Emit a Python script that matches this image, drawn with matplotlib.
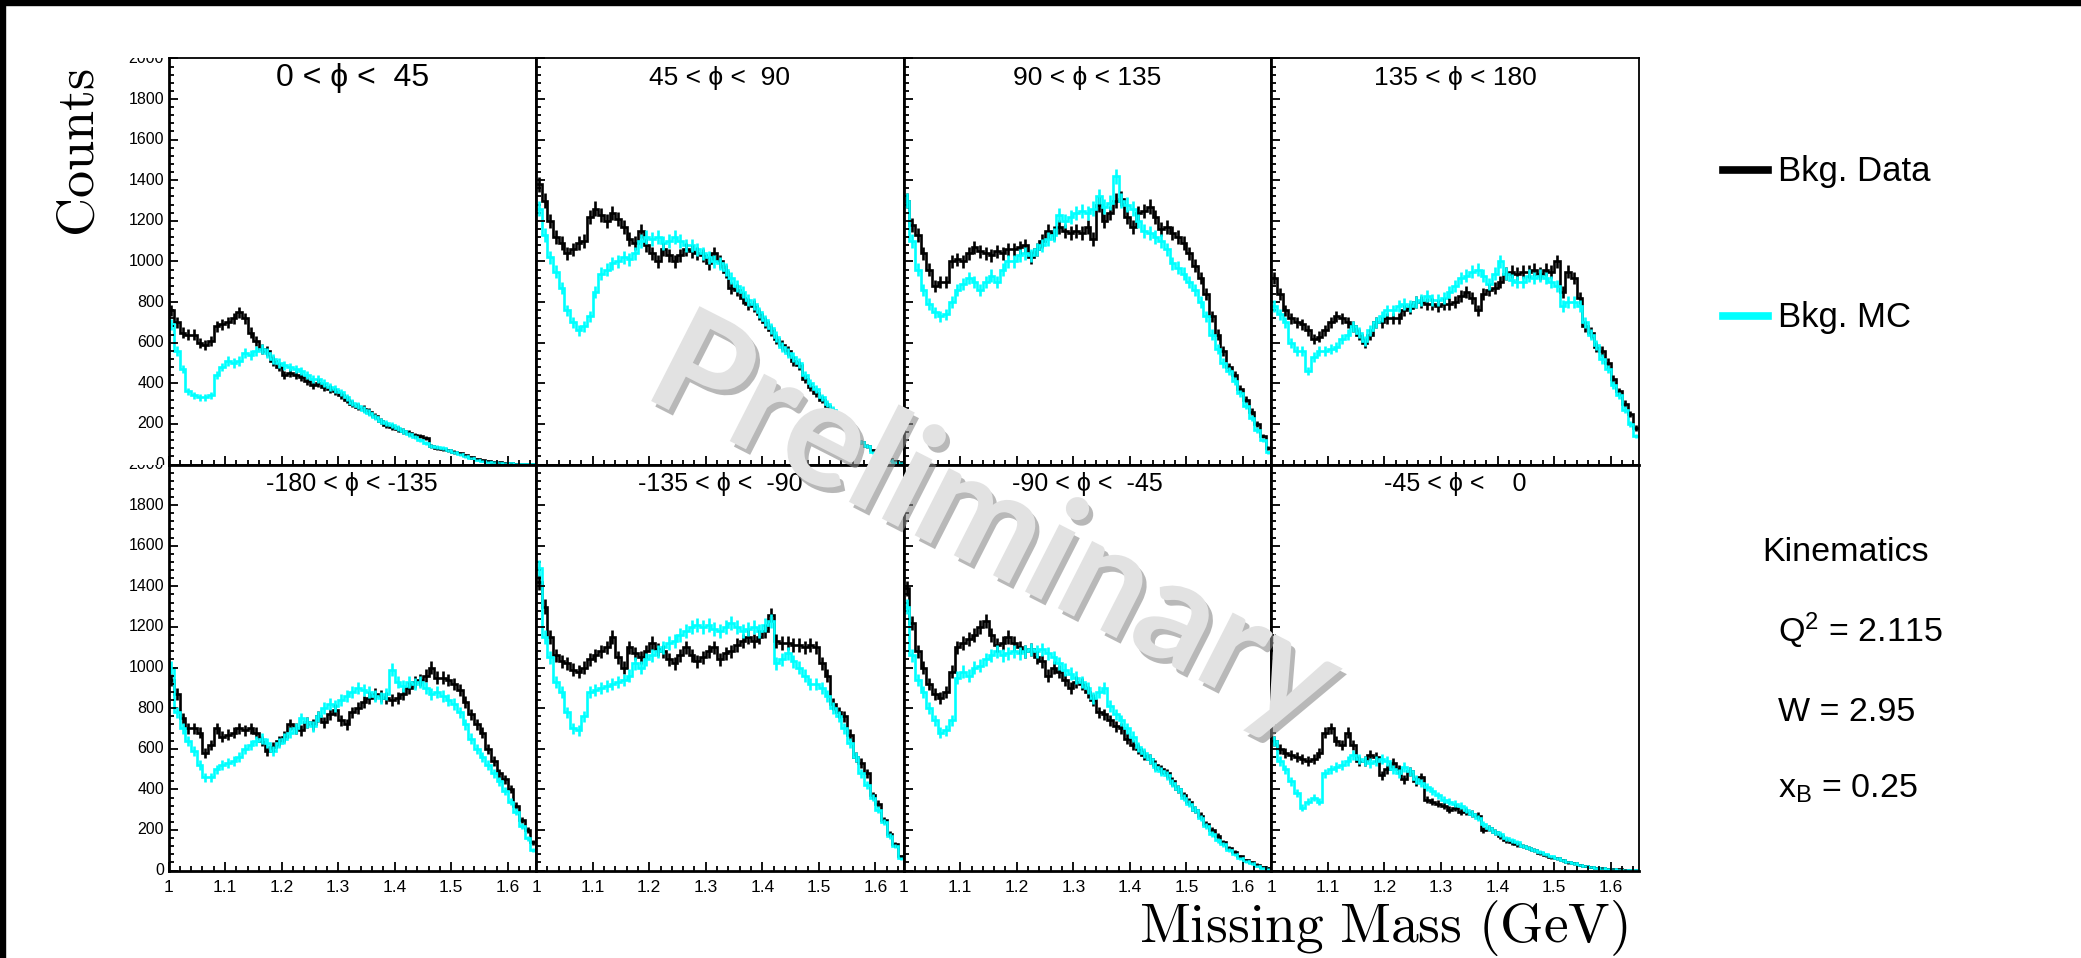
import numpy as np
import matplotlib
matplotlib.use("Agg")
import matplotlib.pyplot as plt
import matplotlib.patheffects as pe
from matplotlib.patches import Rectangle
from matplotlib.lines import Line2D
from matplotlib.transforms import Bbox, TransformedBbox

plt.rcParams['font.family'] = ['Liberation Sans', 'DejaVu Sans']
plt.rcParams['mathtext.fontset'] = 'custom'
plt.rcParams['mathtext.rm'] = 'Liberation Sans'
plt.rcParams['mathtext.it'] = 'Liberation Sans:italic'

# missing mass binning (GeV), 10 MeV bins
edges = np.round(np.arange(1.0, 1.6501, 0.01), 2)
centers = 0.5 * (edges[:-1] + edges[1:])

titles = ["0 < \u03d5 <  45", "45 < \u03d5 <  90", "90 < \u03d5 < 135", "135 < \u03d5 < 180",
          "-180 < \u03d5 < -135", "-135 < \u03d5 <  -90", "-90 < \u03d5 <  -45", "-45 < \u03d5 <    0"]
title_sizes = [23, 19, 19, 19, 18, 18, 18, 18]

xtick_labels = ['1', '1.1', '1.2', '1.3', '1.4', '1.5', '1.6']

# background counts, data
data1 = [760, 700, 650, 640, 640, 600, 590, 610, 680, 690,
         700, 720, 750, 720, 650, 610, 570, 560, 510, 480,
         440, 450, 440, 430, 410, 390, 400, 380, 370, 360,
         340, 320, 300, 285, 275, 260, 240, 215, 195, 185,
         175, 165, 155, 145, 140, 130, 90, 80, 75, 70,
         62, 55, 45, 35, 28, 22, 18, 14, 10, 8,
         6, 4, 3, 2, 1]
data2 = [1380, 1300, 1200, 1120, 1090, 1040, 1060, 1090, 1100, 1220,
         1260, 1230, 1200, 1240, 1210, 1170, 1110, 1090, 1150, 1080,
         1040, 1000, 1060, 1030, 1000, 1030, 1060, 1050, 1040, 1030,
         990, 1040, 1000, 950, 870, 860, 820, 790, 780, 740,
         700, 660, 620, 590, 560, 510, 490, 420, 380, 350,
         320, 290, 260, 230, 200, 170, 140, 110, 90, 70,
         55, 40, 28, 18, 10]
data3 = [1300, 1180, 1130, 1040, 960, 880, 900, 900, 1000, 1010,
         1000, 1040, 1070, 1050, 1040, 1030, 1050, 1040, 1060, 1060,
         1070, 1080, 1020, 1060, 1100, 1150, 1140, 1170, 1150, 1140,
         1150, 1140, 1170, 1110, 1280, 1200, 1240, 1300, 1310, 1220,
         1170, 1240, 1250, 1270, 1220, 1160, 1170, 1140, 1120, 1090,
         1040, 980, 920, 840, 730, 640, 560, 480, 440, 370,
         320, 260, 200, 140, 80]
data4 = [920, 840, 760, 720, 700, 690, 660, 620, 630, 660,
         700, 730, 720, 700, 680, 640, 600, 640, 700, 700,
         720, 720, 720, 760, 770, 800, 800, 790, 790, 780,
         790, 790, 800, 830, 850, 820, 760, 840, 860, 870,
         900, 940, 950, 940, 950, 950, 960, 940, 960, 950,
         1000, 850, 950, 920, 820, 680, 650, 580, 560, 500,
         420, 360, 300, 250, 180]
data5 = [940, 870, 750, 700, 700, 680, 580, 620, 700, 660,
         670, 680, 700, 690, 700, 680, 640, 590, 610, 640,
         660, 720, 700, 690, 730, 720, 760, 730, 770, 790,
         740, 720, 780, 800, 830, 850, 870, 860, 850, 840,
         850, 870, 900, 930, 940, 960, 1000, 950, 950, 940,
         920, 890, 830, 770, 720, 680, 600, 540, 480, 450,
         400, 320, 250, 200, 140]
data6 = [1420, 1300, 1150, 1060, 1030, 1020, 990, 980, 1000, 1040,
         1060, 1080, 1100, 1150, 1050, 1000, 1100, 1070, 1050, 1080,
         1120, 1090, 1080, 1040, 1020, 1060, 1100, 1060, 1030, 1050,
         1080, 1100, 1040, 1070, 1080, 1110, 1130, 1150, 1130, 1150,
         1180, 1260, 1130, 1120, 1120, 1110, 1110, 1100, 1110, 1100,
         1020, 960, 820, 780, 760, 670, 560, 530, 480, 370,
         330, 250, 180, 130, 70]
data7 = [1390, 1220, 1080, 1000, 920, 870, 850, 880, 980, 1100,
         1120, 1140, 1160, 1200, 1230, 1160, 1110, 1120, 1150, 1120,
         1100, 1080, 1090, 1050, 1030, 960, 1000, 980, 940, 900,
         930, 920, 880, 840, 780, 770, 740, 710, 700, 650,
         620, 600, 570, 550, 520, 500, 480, 440, 400, 370,
         340, 300, 270, 230, 200, 170, 140, 110, 90, 70,
         50, 40, 30, 20, 12]
data8 = [640, 600, 580, 570, 560, 550, 540, 550, 580, 680,
         700, 640, 620, 680, 620, 540, 540, 570, 560, 470,
         500, 530, 500, 450, 490, 440, 460, 350, 340, 330,
         320, 300, 310, 290, 290, 280, 270, 200, 210, 190,
         170, 150, 140, 130, 120, 110, 100, 85, 75, 65,
         60, 50, 40, 35, 28, 22, 18, 15, 12, 10,
         8, 6, 4, 3, 2]

# background counts, simulation
mc1 = [690, 560, 470, 360, 340, 330, 330, 340, 440, 480,
       510, 500, 510, 550, 540, 560, 570, 550, 520, 500,
       490, 480, 470, 460, 440, 420, 420, 400, 380, 370,
       355, 330, 305, 290, 270, 255, 235, 215, 205, 195,
       180, 165, 150, 135, 120, 105, 92, 85, 80, 70,
       60, 50, 40, 32, 22, 16, 12, 10, 8, 6,
       5, 4, 3, 2, 1]
mc2 = [1260, 1130, 1020, 950, 870, 760, 700, 660, 680, 730,
       850, 940, 960, 990, 1000, 1020, 1010, 1040, 1100, 1120,
       1110, 1120, 1090, 1100, 1120, 1100, 1080, 1080, 1060, 1040,
       1020, 1000, 990, 960, 920, 880, 850, 810, 790, 750,
       710, 670, 630, 580, 550, 530, 500, 440, 400, 370,
       330, 300, 270, 230, 200, 170, 140, 110, 90, 60,
       45, 30, 20, 12, 6]
mc3 = [1300, 1100, 960, 860, 790, 750, 730, 740, 800, 860,
       890, 920, 900, 860, 900, 930, 900, 960, 1000, 1000,
       1030, 1040, 1030, 1060, 1080, 1110, 1130, 1230, 1200, 1220,
       1240, 1250, 1240, 1260, 1320, 1270, 1290, 1420, 1300, 1280,
       1260, 1200, 1150, 1140, 1120, 1100, 1060, 990, 970, 940,
       900, 860, 800, 730, 640, 570, 500, 460, 410, 350,
       290, 230, 170, 120, 60]
mc4 = [780, 740, 700, 600, 560, 560, 460, 530, 560, 560,
       570, 580, 620, 640, 680, 650, 610, 660, 700, 730,
       760, 760, 780, 790, 780, 800, 810, 830, 810, 810,
       820, 850, 880, 920, 930, 950, 960, 930, 890, 940,
       1000, 940, 910, 900, 900, 930, 920, 930, 920, 900,
       880, 780, 800, 800, 780, 700, 640, 590, 520, 470,
       390, 340, 270, 200, 140]
mc5 = [1000, 780, 700, 640, 590, 520, 460, 460, 500, 520,
       530, 540, 560, 600, 620, 640, 650, 630, 590, 630,
       650, 680, 700, 750, 730, 710, 760, 800, 820, 810,
       840, 860, 880, 900, 890, 880, 860, 850, 870, 990,
       930, 910, 930, 920, 930, 900, 870, 880, 860, 840,
       820, 780, 720, 650, 600, 560, 520, 480, 440, 390,
       340, 290, 220, 160, 100]
mc6 = [1490, 1150, 1050, 930, 880, 780, 700, 690, 760, 880,
       890, 900, 910, 920, 930, 940, 960, 1020, 1000, 1040,
       1060, 1080, 1100, 1120, 1130, 1160, 1180, 1200, 1210, 1200,
       1210, 1190, 1180, 1200, 1220, 1200, 1180, 1190, 1200, 1180,
       1210, 1230, 1020, 1040, 1070, 1030, 1000, 960, 920, 920,
       900, 860, 800, 760, 700, 630, 560, 480, 420, 360,
       300, 240, 170, 120, 60]
mc7 = [1300, 1060, 940, 880, 800, 740, 680, 690, 740, 950,
       980, 960, 1000, 1010, 1040, 1060, 1080, 1060, 1070, 1080,
       1070, 1080, 1090, 1080, 1090, 1070, 1050, 1020, 990, 970,
       950, 930, 900, 850, 880, 900, 810, 770, 740, 700,
       660, 610, 580, 550, 510, 490, 470, 430, 400, 360,
       330, 300, 260, 220, 180, 150, 130, 100, 80, 60,
       45, 35, 25, 15, 8]
mc8 = [640, 540, 500, 440, 380, 310, 340, 360, 340, 480,
       500, 510, 520, 540, 570, 550, 540, 530, 540, 550,
       540, 500, 480, 510, 490, 450, 430, 410, 390, 370,
       350, 340, 330, 320, 300, 280, 260, 230, 210, 190,
       180, 160, 150, 140, 120, 110, 100, 90, 80, 70,
       60, 50, 42, 35, 28, 22, 18, 14, 11, 8,
       6, 4, 3, 2, 1]

data_all = [data1, data2, data3, data4, data5, data6, data7, data8]
mc_all = [mc1, mc2, mc3, mc4, mc5, mc6, mc7, mc8]

W, H = 2081, 958
fig = plt.figure(figsize=(W / 100, H / 100), dpi=100, facecolor='white')


def fx(px):
    return px / W


def fy(py):
    return 1 - py / H


col_left = [168.5, 536.1, 903.7, 1271.3]
col_w = 367.6
row_top = [58.4, 464.5]
row_h = 406.1

for i in range(8):
    r, c = divmod(i, 4)
    ax = fig.add_axes([fx(col_left[c]), fy(row_top[r] + row_h), col_w / W, row_h / H])
    ax.set_facecolor('none')
    d = np.array(data_all[i], dtype=float)
    m = np.array(mc_all[i], dtype=float)

    ax.stairs(d, edges, color='black', lw=1.9, baseline=None)
    ax.errorbar(centers, d, yerr=np.sqrt(d), fmt='none', ecolor='black', elinewidth=1.9)
    ax.stairs(m, edges, color='#00ffff', lw=1.9, baseline=None)
    ax.errorbar(centers, m, yerr=np.sqrt(m), fmt='none', ecolor='#00ffff', elinewidth=1.9)

    ax.set_xlim(1.0, 1.65)
    ax.set_ylim(0, 2000)
    ax.set_xticks(np.arange(1.0, 1.61, 0.1))
    ax.set_xticks(np.arange(1.0, 1.65, 0.02), minor=True)
    ax.set_yticks(np.arange(0, 2001, 200))
    ax.set_yticks(np.arange(0, 2001, 40), minor=True)
    ax.tick_params(which='both', direction='in', top=False, right=False, width=1.3)
    ax.tick_params(which='major', length=6.5)
    ax.tick_params(which='minor', length=3.5)
    ax.tick_params(labelleft=False)
    if r == 1:
        ax.set_xticklabels(xtick_labels)
        ax.tick_params(axis='x', labelsize=12.5, pad=7)
    else:
        ax.tick_params(labelbottom=False)

    for side in ['left', 'bottom']:
        ax.spines[side].set_linewidth(2.0)
    for side in ['top', 'right']:
        ax.spines[side].set_linewidth(1.3)

    ax.text(0.5, 0.952, titles[i], transform=ax.transAxes, ha='center', va='center',
            fontsize=title_sizes[i])

    # y labels only on the first column, each clipped to its own row
    if c == 0:
        if r == 0:
            clip = Bbox([[0, fy(464.5)], [1, fy(58.4)]])
        else:
            clip = Bbox([[0, 0], [1, fy(464.5)]])
        for v in range(0, 2001, 200):
            t = fig.text(-0.012, v, str(v), transform=ax.get_yaxis_transform(),
                         ha='right', va='center', fontsize=11.5)
            t.set_clip_box(TransformedBbox(clip, fig.transFigure))
            t.set_clip_on(True)

# axis titles
fig.text(fx(80), fy(153), r'$\mathrm{Counts}$', rotation=90, ha='center', va='center',
         fontsize=39, math_fontfamily='cm')
fig.text(fx(1628), fy(942), r'$\mathrm{Missing\ Mass\ (GeV)}$', ha='right', va='baseline',
         fontsize=40, math_fontfamily='cm')

# legend
fig.add_artist(Line2D([fx(1723), fx(1768)], [fy(170), fy(170)], color='black', lw=5.5,
                      transform=fig.transFigure))
fig.add_artist(Line2D([fx(1723), fx(1768)], [fy(316), fy(316)], color='#00ffff', lw=5.5,
                      transform=fig.transFigure))
fig.text(fx(1778), fy(181), 'Bkg. Data', ha='left', va='baseline', fontsize=25)
fig.text(fx(1778), fy(327), 'Bkg. MC', ha='left', va='baseline', fontsize=25)

# kinematic bin
fig.text(fx(1762), fy(561), 'Kinematics', ha='left', va='baseline', fontsize=24.5)
fig.text(fx(1778), fy(642), r'Q$^{2}$ = 2.115', ha='left', va='baseline', fontsize=24.5)
fig.text(fx(1778), fy(721), 'W = 2.95', ha='left', va='baseline', fontsize=24.5)
fig.text(fx(1778), fy(798), r'x$_{\mathrm{B}}$ = 0.25', ha='left', va='baseline', fontsize=24.5)

# watermark
fig.text(fx(994), fy(528), 'Preliminary', rotation=-27, rotation_mode='anchor',
         ha='center', va='center', fontsize=106, family='Lato', fontweight='bold',
         color='#e2e2e2',
         path_effects=[pe.withSimplePatchShadow(offset=(3, -4), shadow_rgbFace='#8a8a8a', alpha=0.6)],
         zorder=20)

# frame bands
fig.add_artist(Rectangle((0, fy(5)), 1, 5 / H, color='black', transform=fig.transFigure, zorder=30))
fig.add_artist(Rectangle((0, 0), 5 / W, 1, color='black', transform=fig.transFigure, zorder=30))

fig.savefig('out.png', dpi=100, facecolor='white')
